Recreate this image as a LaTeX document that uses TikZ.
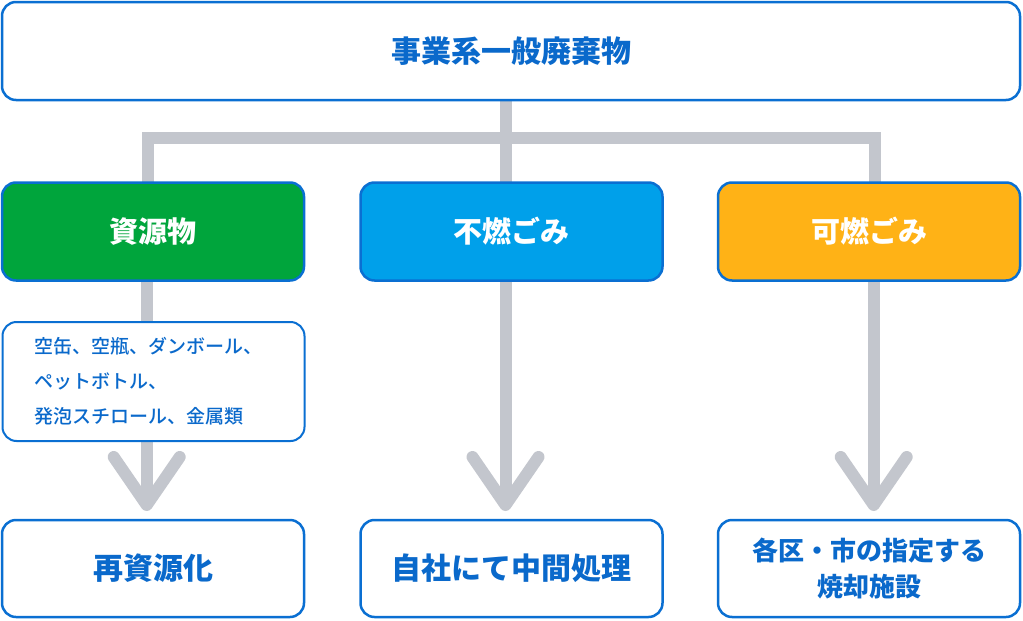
\documentclass[tikz,border=0pt]{standalone}
\usepackage{fontspec}
\setmainfont{Noto Sans CJK JP}
\newfontfamily\medfont{Noto Sans CJK JP Medium}
\usetikzlibrary{calc,backgrounds}
\definecolor{bordblue}{HTML}{0A6FD2}
\definecolor{txtblue}{HTML}{0A69CB}
\definecolor{boxgreen}{HTML}{00A53C}
\definecolor{boxsky}{HTML}{00A0EA}
\definecolor{boxorange}{HTML}{FFB216}
\definecolor{flowgray}{HTML}{C3C6CD}
\tikzset{
  panel/.style={draw=bordblue, line width=2.5pt, rounded corners=14pt, fill=white,
    inner sep=0pt, outer sep=0pt, align=center, font=\bfseries, text=txtblue},
  catbox/.style={panel, minimum width=302pt, minimum height=98pt, text=white,
    font=\fontsize{29}{32}\selectfont\bfseries},
  resultbox/.style={panel, minimum width=302pt, minimum height=97pt},
  flow/.style={draw=flowgray, line width=12pt},
  chev/.style={draw=flowgray, line width=12pt, line cap=round, line join=round},
}
\begin{document}
\begin{tikzpicture}[x=1pt,y=-1pt]
\useasboundingbox (0,0) rectangle (1023,621);
% top
\node[panel, minimum width=1018pt, minimum height=98pt,
  font=\fontsize{30}{32}\selectfont\bfseries] (top) at (511,51) {事業系一般廃棄物};
% categories
\node[catbox, fill=boxgreen] (c1) at (153,231.5) {資源物};
\node[catbox, fill=boxsky] (c2) at (511.5,231.5) {不燃ごみ};
\node[catbox, fill=boxorange] (c3) at (869,231.5) {可燃ごみ};
% items box
\node[panel, line width=2pt, minimum width=302pt, minimum height=119pt,
  text width=238pt, inner xsep=32pt, align=left,
  font=\fontsize{19}{35}\medfont] (items) at (153.5,381.5)
  {空缶、空瓶、ダンボール、\\ペットボトル、\\発泡スチロール、金属類};
% results
\node[resultbox, font=\fontsize{30}{32}\selectfont\bfseries] (r1) at (153,568.5) {再資源化};
\node[resultbox, font=\fontsize{30}{32}\selectfont\bfseries] (r2) at (511.5,568.5) {自社にて中間処理};
\node[resultbox, font=\fontsize{26}{36}\selectfont\bfseries] (r3) at (869,568.5) {各区・市の指定する\\焼却施設};
% junction coordinates
\coordinate (jm) at (505.5,138);
\coordinate (jl) at (147.5,138);
\coordinate (jr) at (875,138);
\coordinate (t1) at (146.7,505);
\coordinate (t2) at (505.5,505);
\coordinate (t3) at (873.7,505);
\begin{scope}[on background layer]
  \draw[flow] (top.south -| jm) -- (c2.north -| jm);
  \draw[flow] (c1.north -| jl) -- (jl) -- (jr) -- (c3.north -| jr);
  \draw[flow] (c1.south -| t1) -- (t1);
  \draw[flow] (c2.south -| t2) -- (t2);
  \draw[flow] (c3.south -| t3) -- (t3);
\end{scope}
\draw[chev] ($(t1)+(-33,-48)$) -- (t1) -- ($(t1)+(33,-48)$);
\draw[chev] ($(t2)+(-33,-48)$) -- (t2) -- ($(t2)+(33,-48)$);
\draw[chev] ($(t3)+(-33,-48)$) -- (t3) -- ($(t3)+(33,-48)$);
\end{tikzpicture}
\end{document}
